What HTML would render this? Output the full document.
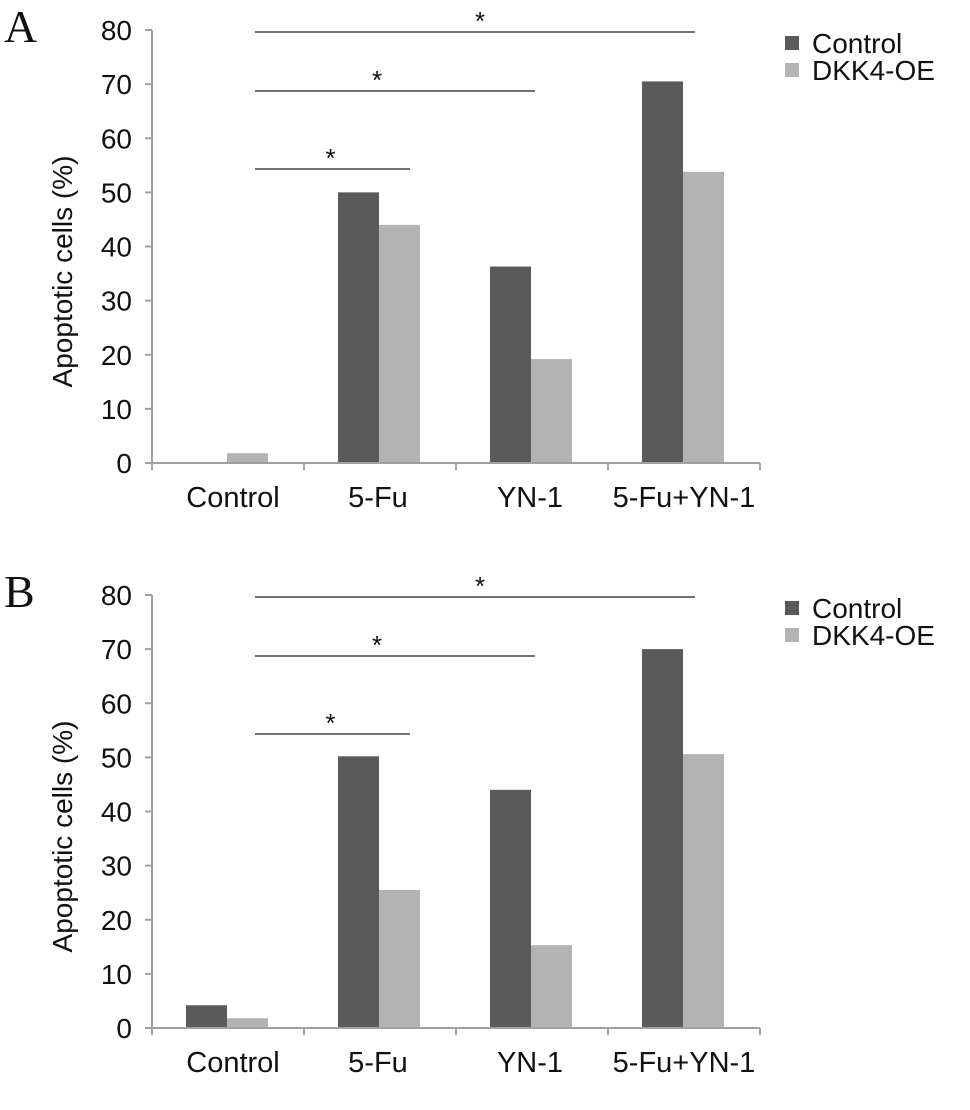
<!DOCTYPE html>
<html><head><meta charset="utf-8"><style>
body{margin:0;background:#fff;}
svg{display:block;font-family:"Liberation Sans",Arial,sans-serif;}
</style></head><body>
<svg id="chart" width="970" height="1110" viewBox="0 0 970 1110" xmlns="http://www.w3.org/2000/svg"></svg>
<script>
const categories = ["Control","5-Fu","YN-1","5-Fu+YN-1"];
const seriesNames = ["Control","DKK4-OE"];
const panelLabels = ["A","B"];
const panelAControl = [0, 50, 36.3, 70.5];
const panelADkk4 = [1.8, 44, 19.2, 53.8];
const panelBControl = [4.2, 50.2, 44, 70];
const panelBDkk4 = [1.8, 25.5, 15.3, 50.6];
const yTicks = [0,10,20,30,40,50,60,70,80];
const sigPairs = [[0,3],[0,2],[0,1]];

const NS = "http://www.w3.org/2000/svg";
const svg = document.getElementById("chart");
const colors = ["#5a5a5a","#b3b3b3"];
function el(tag, attrs, parent){
  const e = document.createElementNS(NS, tag);
  for (const k in attrs) e.setAttribute(k, attrs[k]);
  (parent||svg).appendChild(e);
  return e;
}
function drawPanel(idx, top, ctrl, dkk){
  const g = el("g", {});
  
  
  const y0 = top + 433, yMax = top;
  const x0 = 152, x1 = 760;
  const catW = (x1 - x0) / categories.length;
  const ys = v => y0 - (v / 80) * (y0 - yMax);
  const cx = i => x0 + catW * (i + 0.5);
  const barW = 41;
  const pl = el("text", {x:4, y:top+12, "font-family":"'Liberation Serif',serif", "font-size":"46", fill:"#111"}, g);
  pl.textContent = panelLabels[idx];
  
  
  const ax = el("line", {x1:x0, y1:yMax, x2:x0, y2:y0, stroke:"#a0a0a0", "stroke-width":2}, g);
  
  
  yTicks.forEach(t => {
    const y = ys(t);
    el("line", {x1:x0-7, y1:y, x2:x0, y2:y, stroke:"#a0a0a0", "stroke-width":2}, g);
    const tx = el("text", {x:x0-20, y:y+10, "text-anchor":"end", "font-size":"28", fill:"#111"}, g);
    tx.textContent = t;
    
    
  });
  const yt = el("text", {transform:`translate(72,${(y0+yMax)/2+25}) rotate(-90)`, "text-anchor":"middle", "font-size":"28", fill:"#111"}, g);
  yt.textContent = "Apoptotic cells (%)";
  
  
  categories.forEach((c, i) => {
    [ctrl[i], dkk[i]].forEach((v, s) => {
      const x = s === 0 ? cx(i) - barW - 1 : cx(i) - 1;
      const b = el("rect", {x:x, y:ys(v), width:barW, height:y0 - ys(v), fill:colors[s]}, g);
      
      
    });
  });
  const xa = el("line", {x1:x0, y1:y0, x2:x1, y2:y0, stroke:"#a0a0a0", "stroke-width":2}, g);
  
  
  for (let i = 0; i <= categories.length; i++){
    const x = x0 + catW * i;
    el("line", {x1:x, y1:y0, x2:x, y2:y0+7, stroke:"#a0a0a0", "stroke-width":2}, g);
  }
  const lblOff = [5, -2, -2, 0];
  categories.forEach((c, i) => {
    const t = el("text", {x:cx(i)+lblOff[i], y:y0+44, "text-anchor":"middle", "font-size":"29", fill:"#111"}, g);
    t.textContent = c;
    
    
  });
  const sigY = [top+2, top+61, top+139];
  const endOff = [11, 3, 30];
  const starOff = [5, -18, -2];
  sigPairs.forEach((p, k) => {
    const xa1 = cx(p[0]) + 27, xa2 = cx(p[1]) + endOff[k];
    const l = el("line", {x1:xa1, y1:sigY[k], x2:xa2, y2:sigY[k], stroke:"#444", "stroke-width":1.5}, g);
    
    
    const s = el("text", {x:(xa1+xa2)/2 + starOff[k], y:sigY[k]-2, "text-anchor":"middle", "font-size":"26", fill:"#111"}, g);
    s.textContent = "*";
    
    
  });
  seriesNames.forEach((n, s) => {
    const ly = top + 13 + s * 27;
    const sq = el("rect", {x:785, y:ly-7, width:14, height:14, fill:colors[s]}, g);
    
    
    const t = el("text", {x:812, y:ly+10, "font-size":"28", fill:"#111"}, g);
    t.textContent = n;
    
    
  });
}
drawPanel(0, 30, panelAControl, panelADkk4);
drawPanel(1, 595, panelBControl, panelBDkk4);
</script>
</body></html>
